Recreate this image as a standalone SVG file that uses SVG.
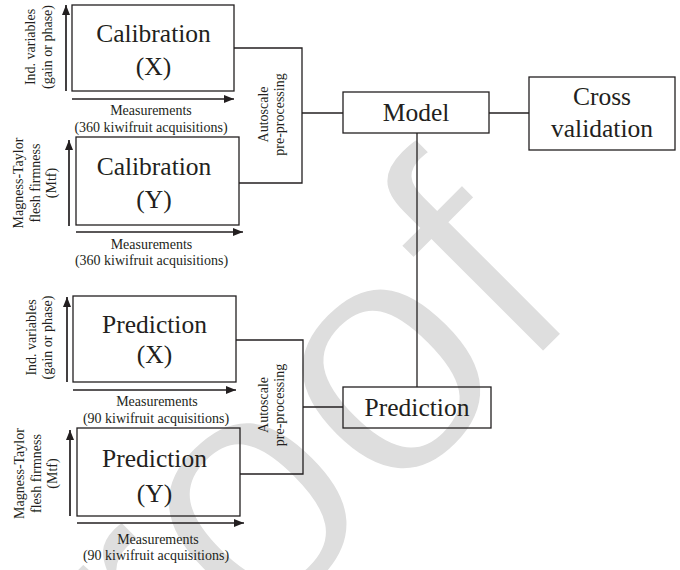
<svg xmlns="http://www.w3.org/2000/svg" width="680" height="570" viewBox="0 0 680 570">
<style>
text{font-family:"Liberation Serif","Times New Roman",serif;fill:#231f20}
.big{font-family:"Liberation Serif","Times New Roman",serif;font-size:25.5px;text-anchor:middle}
.sm{font-family:"Liberation Serif","Times New Roman",serif;font-size:14px;text-anchor:middle}
.box{fill:none;stroke:#231f20;stroke-width:1.3}
.ln{fill:none;stroke:#231f20;stroke-width:1.3}
.ax{fill:none;stroke:#231f20;stroke-width:1.7;marker-end:url(#ah)}
.wm{font-family:"Liberation Sans",Arial,sans-serif;font-size:340px;fill:#dedede;stroke:#fff;stroke-width:6}
</style>
<defs>
<marker id="ah" markerUnits="userSpaceOnUse" markerWidth="10" markerHeight="8" refX="10" refY="4" orient="auto">
<path d="M0,0 L10,4 L0,8 z" fill="#231f20"/>
</marker>
</defs>
<rect width="680" height="570" fill="#fff"/>
<text class="wm" transform="translate(14,884) rotate(-45)">Proof</text>

<g id="connectors">
<path class="ln" d="M234,48 H302 V183 H239"/>
<path class="ln" d="M302,113 H343"/>
<path class="ln" d="M489,113 H529"/>
<path class="ln" d="M417,133 V387"/>
<path class="ln" d="M236,340 H303 V474 H240"/>
<path class="ln" d="M303,407 H343"/>
</g>

<g id="cal-x">
<rect class="box" x="72" y="5" width="162" height="86"/>
<text class="big" x="153.5" y="42">Calibration</text>
<text class="big" x="153.5" y="75">(X)</text>
<path class="ax" d="M66,91 V5"/>
<path class="ax" d="M72,99 H234"/>
<text class="sm" transform="translate(35,47) rotate(-90)">Ind. variables</text>
<text class="sm" transform="translate(51.5,47) rotate(-90)">(gain or phase)</text>
<text class="sm" x="151" y="115">Measurements</text>
<text class="sm" x="151" y="131.5">(360 kiwifruit acquisitions)</text>
</g>

<g id="cal-y">
<rect class="box" x="76" y="137" width="163" height="88"/>
<text class="big" x="154" y="175">Calibration</text>
<text class="big" x="154" y="208">(Y)</text>
<path class="ax" d="M69,226 V140"/>
<path class="ax" d="M76,232 H243"/>
<text class="sm" transform="translate(23,183) rotate(-90)">Magness-Taylor</text>
<text class="sm" transform="translate(39.5,183) rotate(-90)">flesh firmness</text>
<text class="sm" transform="translate(56,183) rotate(-90)">(Mtf)</text>
<text class="sm" x="151.5" y="248.5">Measurements</text>
<text class="sm" x="151.5" y="265">(360 kiwifruit acquisitions)</text>
</g>

<g id="autoscale-cal">
<text class="sm" transform="translate(267.5,114.5) rotate(-90)">Autoscale</text>
<text class="sm" transform="translate(284,114.5) rotate(-90)">pre-processing</text>
</g>

<g id="model">
<rect class="box" x="343" y="92" width="146" height="41"/>
<text class="big" x="416" y="121">Model</text>
</g>

<g id="cross-validation">
<rect class="box" x="529" y="77" width="146" height="73"/>
<text class="big" x="602" y="105">Cross</text>
<text class="big" x="602" y="137">validation</text>
</g>

<g id="pred-x">
<rect class="box" x="73" y="296" width="163" height="86"/>
<text class="big" x="154.5" y="333">Prediction</text>
<text class="big" x="154.5" y="363">(X)</text>
<path class="ax" d="M67,382 V297"/>
<path class="ax" d="M73,390 H236"/>
<text class="sm" transform="translate(35.5,337.5) rotate(-90)">Ind. variables</text>
<text class="sm" transform="translate(52,337.5) rotate(-90)">(gain or phase)</text>
<text class="sm" x="157" y="406">Measurements</text>
<text class="sm" x="156" y="422.5">(90 kiwifruit acquisitions)</text>
</g>

<g id="pred-y">
<rect class="box" x="77" y="428" width="163" height="88"/>
<text class="big" x="154.5" y="467">Prediction</text>
<text class="big" x="154.5" y="502">(Y)</text>
<path class="ax" d="M70,516 V430"/>
<path class="ax" d="M77,523 H244"/>
<text class="sm" transform="translate(24,473.5) rotate(-90)">Magness-Taylor</text>
<text class="sm" transform="translate(40.5,473.5) rotate(-90)">flesh firmness</text>
<text class="sm" transform="translate(57,473.5) rotate(-90)">(Mtf)</text>
<text class="sm" x="158" y="544">Measurements</text>
<text class="sm" x="156" y="560">(90 kiwifruit acquisitions)</text>
</g>

<g id="autoscale-pred">
<text class="sm" transform="translate(267.5,405) rotate(-90)">Autoscale</text>
<text class="sm" transform="translate(284,405) rotate(-90)">pre-processing</text>
</g>

<g id="prediction">
<rect class="box" x="343" y="387" width="148" height="41"/>
<text class="big" x="417" y="416">Prediction</text>
</g>
</svg>
